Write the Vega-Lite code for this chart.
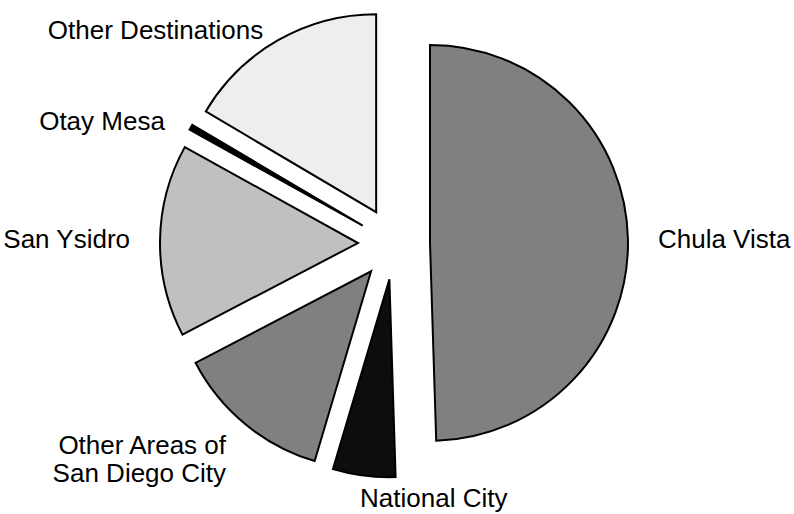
{
  "$schema": "https://vega.github.io/schema/vega-lite/v6.json",
  "width": 788,
  "height": 487,
  "autosize": "none",
  "padding": {"left": 0, "top": 0, "right": 6, "bottom": 27},
  "background": "white",
  "config": {"view": {"stroke": null}},
  "data": {
    "values": [
      {"region": "Chula Vista", "label": "Chula Vista", "share": 49.5},
      {"region": "National City", "label": "National City", "share": 5.1},
      {"region": "Other Areas of San Diego City", "label": "Other Areas of\nSan Diego City", "share": 12.75},
      {"region": "San Ysidro", "label": "San Ysidro", "share": 15.7},
      {"region": "Otay Mesa", "label": "Otay Mesa", "share": 0.45},
      {"region": "Other Destinations", "label": "Other Destinations", "share": 16.5}
    ]
  },
  "transform": [
    {"joinaggregate": [{"op": "sum", "field": "share", "as": "total"}]},
    {"window": [{"op": "sum", "field": "share", "as": "cum"}], "frame": [null, 0]},
    {"calculate": "100*(datum.cum-datum.share)/datum.total", "as": "startPct"},
    {"calculate": "100*datum.cum/datum.total", "as": "endPct"},
    {"calculate": "100*(datum.cum-datum.share/2)/datum.total", "as": "midPct"},
    {"calculate": "2*PI*datum.midPct/100", "as": "mid"},
    {"calculate": "sin(datum.mid)", "as": "ex"},
    {"calculate": "-cos(datum.mid)", "as": "ey"}
  ],
  "layer": [
    {
      "mark": {"type": "arc", "outerRadius": 198, "stroke": "black", "strokeWidth": 2, "strokeJoin": "miter"},
      "encoding": {
        "theta": {"field": "startPct", "type": "quantitative", "stack": null, "scale": {"domain": [0, 100], "range": [0, 6.283185307179586]}},
        "theta2": {"field": "endPct"},
        "xOffset": {"field": "ex", "type": "quantitative", "scale": {"domain": [-1, 1], "range": [-36, 36]}},
        "yOffset": {"field": "ey", "type": "quantitative", "scale": {"domain": [-1, 1], "range": [-36, 36]}},
        "fill": {
          "field": "region",
          "type": "nominal",
          "scale": {
            "domain": ["Chula Vista", "National City", "Other Areas of San Diego City", "San Ysidro", "Otay Mesa", "Other Destinations"],
            "range": ["#808080", "#0d0d0d", "#808080", "#c0c0c0", "#000000", "#eeeeee"]
          },
          "legend": null
        }
      }
    },
    {
      "mark": {
        "type": "text",
        "radius": 245,
        "font": "Liberation Sans",
        "fontSize": 26,
        "lineBreak": "\n",
        "lineHeight": 28,
        "color": "black",
        "dx": {"expr": "19*sin(datum.mid)"},
        "align": {"expr": "sin(datum.mid) > -0.2 ? 'left' : 'right'"},
        "baseline": {"expr": "cos(datum.mid) < -0.7 ? 'top' : 'middle'"}
      },
      "encoding": {
        "theta": {"field": "midPct", "type": "quantitative", "stack": null, "scale": {"domain": [0, 100], "range": [0, 6.283185307179586]}},
        "text": {"field": "label"}
      }
    }
  ]
}
